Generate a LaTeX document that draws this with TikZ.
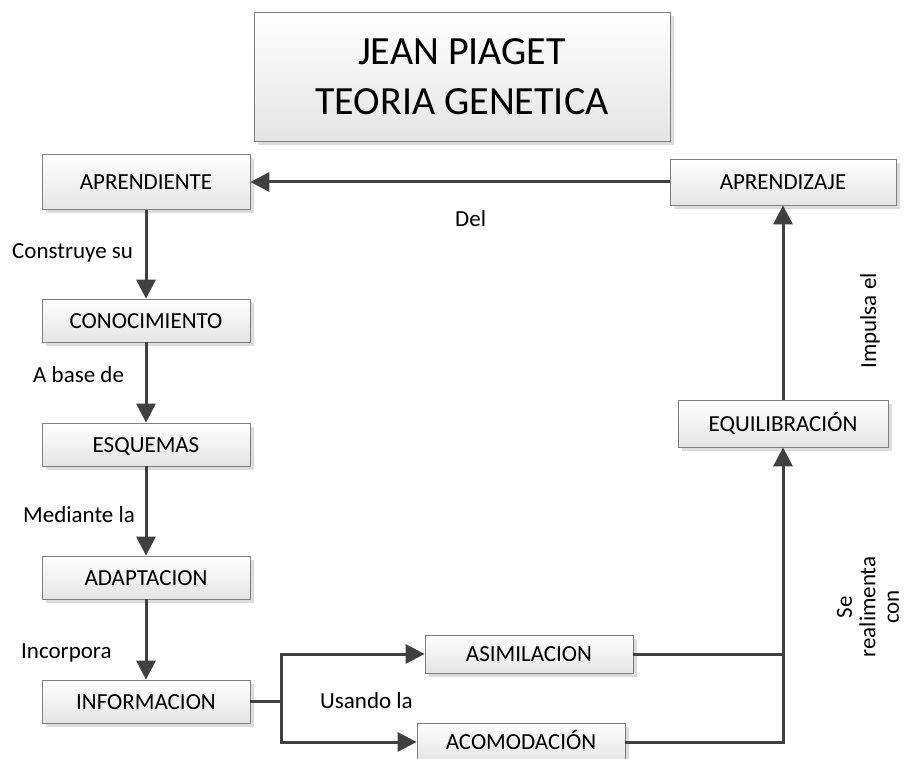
\documentclass[tikz,border=0pt]{standalone}
\usepackage{fontspec}
\setmainfont{Carlito}
\usetikzlibrary{arrows.meta,shadows}
\definecolor{linegray}{HTML}{404040}
\definecolor{boxline}{HTML}{7F7F7F}
\definecolor{boxbottom}{HTML}{E4E4E4}
\definecolor{shadowgray}{HTML}{DCDCDC}
\begin{document}
\begin{tikzpicture}[x=1pt,y=-1pt,
  boxbase/.style={draw=boxline, line width=0.8pt, top color=white, bottom color=boxbottom,
    inner sep=0pt, drop shadow={shadow xshift=4pt, shadow yshift=-4pt, fill=shadowgray, opacity=1}},
  concept/.style={boxbase, font=\fontsize{23}{27}\selectfont, text height=15pt, text depth=0pt},
  titlebox/.style={boxbase, font=\fontsize{40}{50}\selectfont, align=center},
  flow/.style={draw=linegray, line width=3pt, -{Triangle[length=19pt,width=19pt]}},
  link/.style={draw=linegray, line width=3pt},
  lbl/.style={font=\fontsize{23}{27}\selectfont, inner sep=0pt}]
  \fill[white] (0,0) rectangle (909,759);
  \useasboundingbox (0,0) rectangle (909,759);

  % title
  \node[titlebox, minimum width=416pt, minimum height=129pt] (title) at (462,76.5)
    {JEAN PIAGET\\TEORIA GENETICA};

  % left column
  \node[concept, minimum width=208pt, minimum height=55pt] (aprendiente) at (146,182) {APRENDIENTE};
  \node[concept, minimum width=208pt, minimum height=43pt] (conocimiento) at (146,320.5) {CONOCIMIENTO};
  \node[concept, minimum width=208pt, minimum height=43pt] (esquemas) at (146,444.5) {ESQUEMAS};
  \node[concept, minimum width=208pt, minimum height=43pt] (adaptacion) at (146,577.5) {ADAPTACION};
  \node[concept, minimum width=208pt, minimum height=43pt] (informacion) at (146,701.5) {INFORMACION};

  % right side
  \node[concept, minimum width=226pt, minimum height=46pt] (aprendizaje) at (783,182) {APRENDIZAJE};
  \node[concept, minimum width=210pt, minimum height=47pt] (equilibracion) at (783,423.5) {EQUILIBRACIÓN};

  % bottom pair
  \node[concept, minimum width=208pt, minimum height=38pt] (asimilacion) at (529,654) {ASIMILACION};
  \node[concept, minimum width=208pt, minimum height=38pt] (acomodacion) at (521,742) {ACOMODACIÓN};

  % connectors
  \draw[flow] (aprendizaje.west) -- (aprendiente.east);
  \draw[flow] (aprendiente.south) -- (conocimiento.north);
  \draw[flow] (conocimiento.south) -- (esquemas.north);
  \draw[flow] (esquemas.south) -- (adaptacion.north);
  \draw[flow] (adaptacion.south) -- (informacion.north);

  \coordinate (split) at (281,701.5);
  \draw[link] (informacion.east) -- (split);
  \draw[flow] (split) |- (asimilacion.west);
  \draw[flow] (split) |- (acomodacion.west);

  \draw[link] (asimilacion.east) -- (asimilacion.east -| equilibracion.south);
  \draw[flow] (acomodacion.east) -| (equilibracion.south);
  \draw[flow] (equilibracion.north) -- (aprendizaje.south);

  % connector labels
  \node[lbl, anchor=base west] (lblDel) at (455,226) {Del};
  \node[lbl, anchor=base west] (lblConstruye) at (12,258) {Construye su};
  \node[lbl, anchor=base west] (lblBase) at (33,382) {A base de};
  \node[lbl, anchor=base west] (lblMediante) at (23,522) {Mediante la};
  \node[lbl, anchor=base west] (lblIncorpora) at (21,658) {Incorpora};
  \node[lbl, anchor=base west] (lblUsando) at (320,708) {Usando la};
  \node[lbl, anchor=base, rotate=90] (lblImpulsa) at (876,321) {Impulsa el};
  \node[lbl, font=\fontsize{23}{23.5}\selectfont, align=center, rotate=90] (lblRealimenta) at (868,607)
    {Se\\realimenta\\con};
\end{tikzpicture}
\end{document}
